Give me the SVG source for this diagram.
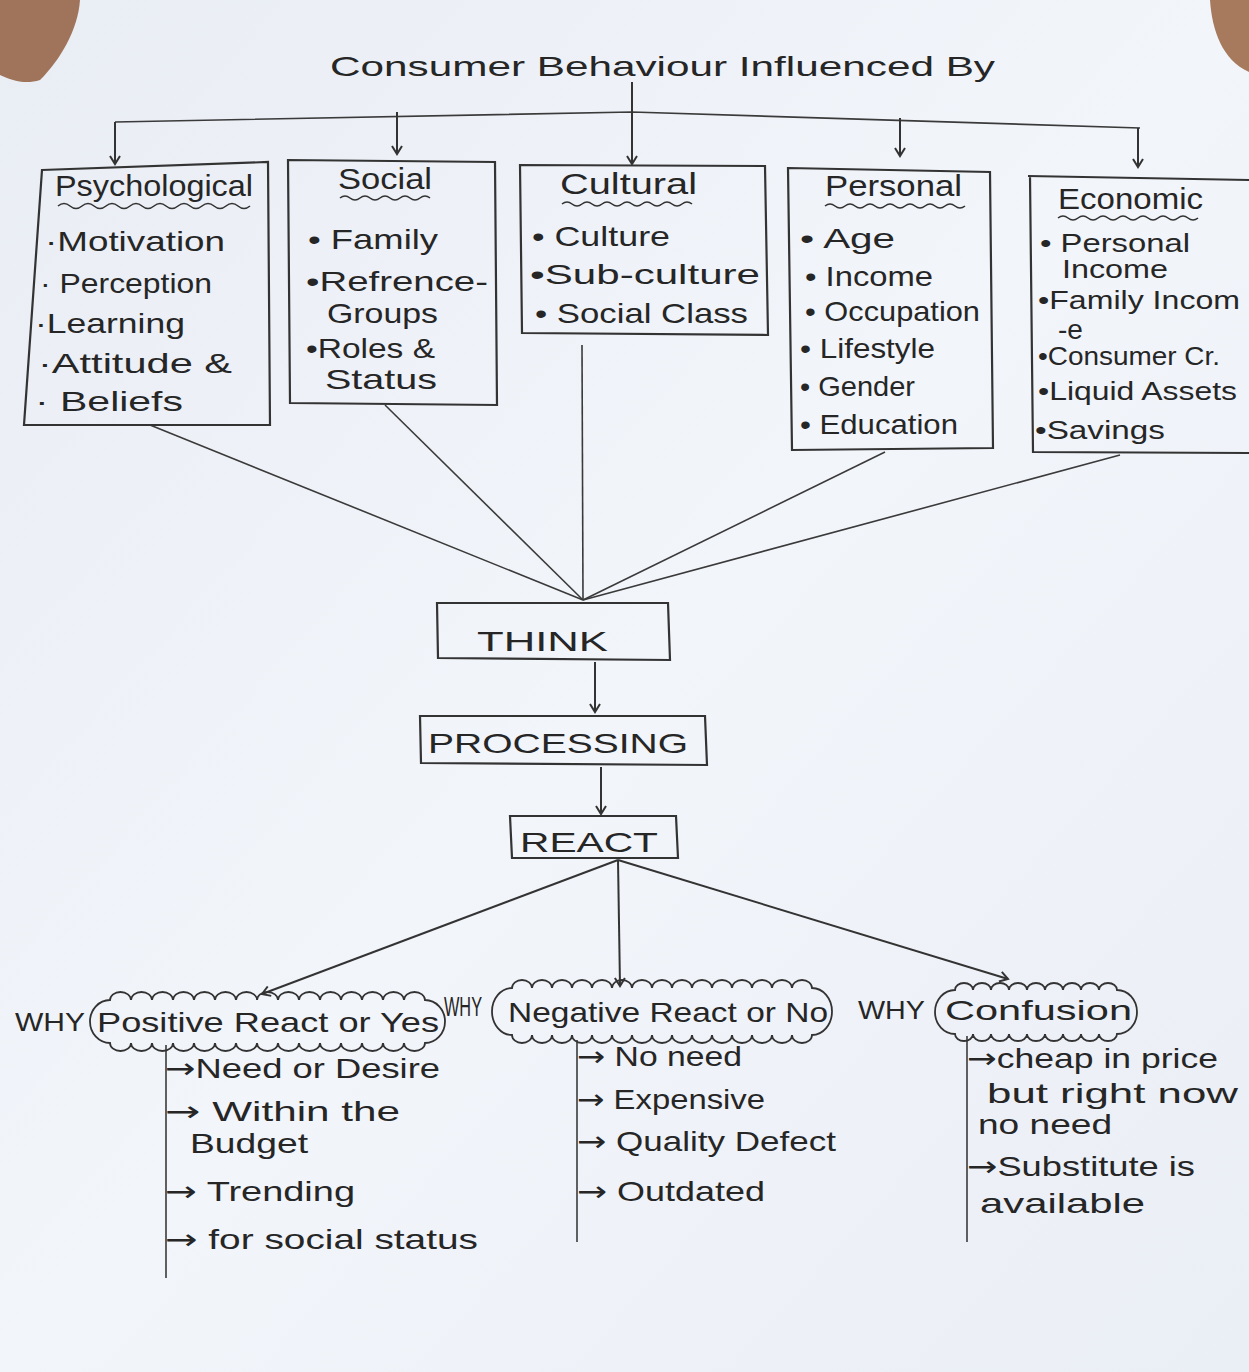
<svg xmlns="http://www.w3.org/2000/svg" width="1249" height="1372" viewBox="0 0 1249 1372">
<defs>
<marker id="ah" markerWidth="12" markerHeight="12" refX="9" refY="6" orient="auto" markerUnits="userSpaceOnUse">
<path d="M1,1 L9,6 L1,11" fill="none" stroke="#333" stroke-width="2"/>
</marker>
<linearGradient id="paper" x1="0" y1="0" x2="1" y2="1">
<stop offset="0" stop-color="#e9edf4"/>
<stop offset="0.5" stop-color="#f2f5fa"/>
<stop offset="1" stop-color="#eaeef5"/>
</linearGradient>
</defs>
<style>
.t{font-family:"Liberation Sans",Arial,sans-serif;fill:#262626;font-size:28px}
.h{font-size:30px}
.s{font-size:25px}
.a{font-family:"DejaVu Sans",sans-serif}
.box{fill:none;stroke:#333;stroke-width:2.2}
.ln{fill:none;stroke:#3a3a3a;stroke-width:1.6}
.ar{fill:none;stroke:#333;stroke-width:2;marker-end:url(#ah)}
.wv{fill:none;stroke:#333;stroke-width:1.6}
.cl{fill:none;stroke:#333;stroke-width:1.8}
</style>
<rect x="0" y="0" width="1249" height="1372" fill="url(#paper)"/>
<path d="M0,0 L80,0 C78,30 60,60 40,80 C25,85 10,80 0,75 Z" fill="#a0745a"/>
<path d="M1249,0 L1210,0 C1212,30 1222,60 1249,72 Z" fill="#a77a5e"/>

<g id="title">
<text class="t" x="330" y="76" font-size="40" textLength="665" lengthAdjust="spacingAndGlyphs">Consumer Behaviour Influenced By</text>
</g>

<g id="connectors">
<path class="ln" d="M115,122 L632,112 L1140,128"/>
<path class="ar" d="M115,122 L115,164"/>
<path class="ar" d="M397,112 L397,154"/>
<path class="ar" d="M632,82 L632,164"/>
<path class="ar" d="M900,118 L900,156"/>
<path class="ar" d="M1138,128 L1138,167"/>
<path class="ln" d="M150,425 L583,600"/>
<path class="ln" d="M385,405 L583,600"/>
<path class="ln" d="M582,345 L583,600"/>
<path class="ln" d="M885,452 L583,600"/>
<path class="ln" d="M1120,455 L583,600"/>
<path class="ar" d="M595,662 L595,712"/>
<path class="ar" d="M601,767 L601,814"/>
<path class="ar" d="M618,860 L262,994"/>
<path class="ar" d="M618,860 L620,986"/>
<path class="ar" d="M618,860 L1008,979"/>
<path class="ln" d="M166,1045 L166,1278"/>
<path class="ln" d="M577,1040 L577,1242"/>
<path class="ln" d="M967,1036 L967,1242"/>
</g>

<g id="psychological">
<path class="box" d="M42,170 L268,162 L270,425 L24,425 Z"/>
<text class="t h" x="55" y="196" textLength="198" lengthAdjust="spacingAndGlyphs">Psychological</text>
<path class="wv" d="M58,206 q6,-5 12,0 t12,0 t12,0 t12,0 t12,0 t12,0 t12,0 t12,0 t12,0 t12,0 t12,0 t12,0 t12,0 t12,0 t12,0 t12,0"/>
<text class="t" x="45" y="251" textLength="180" lengthAdjust="spacingAndGlyphs">·Motivation</text>
<text class="t" x="40" y="293" textLength="172" lengthAdjust="spacingAndGlyphs">· Perception</text>
<text class="t" x="35" y="333" textLength="150" lengthAdjust="spacingAndGlyphs">·Learning</text>
<text class="t" x="38" y="373" textLength="194" lengthAdjust="spacingAndGlyphs">·Attitude &amp;</text>
<text class="t" x="35" y="411" textLength="148" lengthAdjust="spacingAndGlyphs">·  Beliefs</text>
</g>

<g id="social">
<path class="box" d="M288,160 L495,162 L497,405 L290,403 Z"/>
<text class="t h" x="338" y="189" textLength="94" lengthAdjust="spacingAndGlyphs">Social</text>
<path class="wv" d="M340,198 q5,-4 10,0 t10,0 t10,0 t10,0 t10,0 t10,0 t10,0 t10,0 t10,0"/>
<text class="t" x="308" y="249" textLength="130" lengthAdjust="spacingAndGlyphs">• Family</text>
<text class="t" x="306" y="291" textLength="182" lengthAdjust="spacingAndGlyphs">•Refrence-</text>
<text class="t" x="327" y="323" textLength="111" lengthAdjust="spacingAndGlyphs">Groups</text>
<text class="t" x="306" y="358" textLength="129" lengthAdjust="spacingAndGlyphs">•Roles &amp;</text>
<text class="t" x="325" y="389" textLength="112" lengthAdjust="spacingAndGlyphs">Status</text>
</g>

<g id="cultural">
<path class="box" d="M520,165 L765,166 L768,335 L522,333 Z"/>
<text class="t h" x="560" y="194" textLength="137" lengthAdjust="spacingAndGlyphs">Cultural</text>
<path class="wv" d="M562,204 q5,-4 10,0 t10,0 t10,0 t10,0 t10,0 t10,0 t10,0 t10,0 t10,0 t10,0 t10,0 t10,0 t10,0"/>
<text class="t" x="532" y="246" textLength="138" lengthAdjust="spacingAndGlyphs">• Culture</text>
<text class="t" x="530" y="284" textLength="230" lengthAdjust="spacingAndGlyphs">•Sub-culture</text>
<text class="t" x="535" y="323" textLength="213" lengthAdjust="spacingAndGlyphs">• Social Class</text>
</g>

<g id="personal">
<path class="box" d="M788,168 L990,172 L993,448 L792,450 Z"/>
<text class="t h" x="825" y="196" textLength="137" lengthAdjust="spacingAndGlyphs">Personal</text>
<path class="wv" d="M825,206 q5,-4 10,0 t10,0 t10,0 t10,0 t10,0 t10,0 t10,0 t10,0 t10,0 t10,0 t10,0 t10,0 t10,0 t10,0"/>
<text class="t" x="800" y="248" textLength="95" lengthAdjust="spacingAndGlyphs">•  Age</text>
<text class="t" x="805" y="286" textLength="128" lengthAdjust="spacingAndGlyphs">• Income</text>
<text class="t" x="805" y="321" textLength="175" lengthAdjust="spacingAndGlyphs">• Occupation</text>
<text class="t" x="800" y="358" textLength="135" lengthAdjust="spacingAndGlyphs">• Lifestyle</text>
<text class="t" x="800" y="396" textLength="115" lengthAdjust="spacingAndGlyphs">• Gender</text>
<text class="t" x="800" y="434" textLength="158" lengthAdjust="spacingAndGlyphs">• Education</text>
</g>

<g id="economic">
<path class="box" d="M1028,176 L1249,180 M1030,176 L1033,452 L1249,453"/>
<text class="t h" x="1058" y="209" textLength="145" lengthAdjust="spacingAndGlyphs">Economic</text>
<path class="wv" d="M1058,218 q5,-4 10,0 t10,0 t10,0 t10,0 t10,0 t10,0 t10,0 t10,0 t10,0 t10,0 t10,0 t10,0 t10,0 t10,0"/>
<text class="t s" x="1040" y="252" textLength="150" lengthAdjust="spacingAndGlyphs">• Personal</text>
<text class="t s" x="1062" y="278" textLength="106" lengthAdjust="spacingAndGlyphs">Income</text>
<text class="t s" x="1038" y="309" textLength="202" lengthAdjust="spacingAndGlyphs">•Family Incom</text>
<text class="t" x="1058" y="339" font-size="15">-e</text>
<text class="t s" x="1038" y="365" textLength="182" lengthAdjust="spacingAndGlyphs">•Consumer Cr.</text>
<text class="t s" x="1038" y="400" textLength="199" lengthAdjust="spacingAndGlyphs">•Liquid Assets</text>
<text class="t s" x="1035" y="439" textLength="130" lengthAdjust="spacingAndGlyphs">•Savings</text>
</g>

<g id="think">
<path class="box" d="M437,603 L668,603 L670,660 L438,658 Z"/>
<text class="t" x="477" y="651" font-size="34" textLength="131" lengthAdjust="spacingAndGlyphs">THINK</text>
</g>

<g id="processing">
<path class="box" d="M420,716 L705,716 L707,765 L421,763 Z"/>
<text class="t" x="428" y="753" font-size="30" textLength="260" lengthAdjust="spacingAndGlyphs">PROCESSING</text>
</g>

<g id="react">
<path class="box" d="M510,816 L676,816 L678,858 L512,858 Z"/>
<text class="t" x="520" y="852" font-size="30" textLength="138" lengthAdjust="spacingAndGlyphs">REACT</text>
</g>

<g id="positive">
<text class="t s" x="15" y="1031" textLength="70" lengthAdjust="spacingAndGlyphs">WHY</text>
<path class="cl" d="M110,1000 a10.5 8 0 0 1 21 0 a10.5 8 0 0 1 21 0 a10.5 8 0 0 1 21 0 a10.5 8 0 0 1 21 0 a10.5 8 0 0 1 21 0 a10.5 8 0 0 1 21 0 a10.5 8 0 0 1 21 0 a10.5 8 0 0 1 21 0 a10.5 8 0 0 1 21 0 a10.5 8 0 0 1 21 0 a10.5 8 0 0 1 21 0 a10.5 8 0 0 1 21 0 a10.5 8 0 0 1 21 0 a10.5 8 0 0 1 21 0 a10.5 8 0 0 1 21 0 a20 21.5 0 0 1 0 43 a10.5 8 0 0 1 -21 0 a10.5 8 0 0 1 -21 0 a10.5 8 0 0 1 -21 0 a10.5 8 0 0 1 -21 0 a10.5 8 0 0 1 -21 0 a10.5 8 0 0 1 -21 0 a10.5 8 0 0 1 -21 0 a10.5 8 0 0 1 -21 0 a10.5 8 0 0 1 -21 0 a10.5 8 0 0 1 -21 0 a10.5 8 0 0 1 -21 0 a10.5 8 0 0 1 -21 0 a10.5 8 0 0 1 -21 0 a10.5 8 0 0 1 -21 0 a10.5 8 0 0 1 -21 0 a20 21.5 0 0 1 0 -43 Z"/>
<text class="t" x="97" y="1032" textLength="342" lengthAdjust="spacingAndGlyphs">Positive React or Yes</text>
<text class="t" x="165" y="1078" textLength="275" lengthAdjust="spacingAndGlyphs"><tspan class="a">→</tspan>Need or Desire</text>
<text class="t" x="165" y="1121" textLength="235" lengthAdjust="spacingAndGlyphs"><tspan class="a">→</tspan> Within the</text>
<text class="t" x="190" y="1153" textLength="118" lengthAdjust="spacingAndGlyphs">Budget</text>
<text class="t" x="165" y="1201" textLength="190" lengthAdjust="spacingAndGlyphs"><tspan class="a">→</tspan> Trending</text>
<text class="t" x="165" y="1249" textLength="313" lengthAdjust="spacingAndGlyphs"><tspan class="a">→</tspan> for social status</text>
</g>

<g id="negative">
<text class="t" x="444" y="1016" font-size="14" textLength="38" lengthAdjust="spacingAndGlyphs">WHY</text>
<path class="cl" d="M512,988 a10 8 0 0 1 20 0 a10 8 0 0 1 20 0 a10 8 0 0 1 20 0 a10 8 0 0 1 20 0 a10 8 0 0 1 20 0 a10 8 0 0 1 20 0 a10 8 0 0 1 20 0 a10 8 0 0 1 20 0 a10 8 0 0 1 20 0 a10 8 0 0 1 20 0 a10 8 0 0 1 20 0 a10 8 0 0 1 20 0 a10 8 0 0 1 20 0 a10 8 0 0 1 20 0 a10 8 0 0 1 20 0 a20 23.5 0 0 1 0 47 a10 8 0 0 1 -20 0 a10 8 0 0 1 -20 0 a10 8 0 0 1 -20 0 a10 8 0 0 1 -20 0 a10 8 0 0 1 -20 0 a10 8 0 0 1 -20 0 a10 8 0 0 1 -20 0 a10 8 0 0 1 -20 0 a10 8 0 0 1 -20 0 a10 8 0 0 1 -20 0 a10 8 0 0 1 -20 0 a10 8 0 0 1 -20 0 a10 8 0 0 1 -20 0 a10 8 0 0 1 -20 0 a10 8 0 0 1 -20 0 a20 23.5 0 0 1 0 -47 Z"/>
<text class="t" x="508" y="1022" textLength="320" lengthAdjust="spacingAndGlyphs">Negative React or No</text>
<text class="t" x="577" y="1066" textLength="165" lengthAdjust="spacingAndGlyphs"><tspan class="a">→</tspan> No need</text>
<text class="t" x="577" y="1109" textLength="188" lengthAdjust="spacingAndGlyphs"><tspan class="a">→</tspan> Expensive</text>
<text class="t" x="577" y="1151" textLength="259" lengthAdjust="spacingAndGlyphs"><tspan class="a">→</tspan> Quality Defect</text>
<text class="t" x="577" y="1201" textLength="188" lengthAdjust="spacingAndGlyphs"><tspan class="a">→</tspan> Outdated</text>
</g>

<g id="confusion">
<text class="t s" x="858" y="1019" textLength="67" lengthAdjust="spacingAndGlyphs">WHY</text>
<path class="cl" d="M955,990 a9 7 0 0 1 18 0 a9 7 0 0 1 18 0 a9 7 0 0 1 18 0 a9 7 0 0 1 18 0 a9 7 0 0 1 18 0 a9 7 0 0 1 18 0 a9 7 0 0 1 18 0 a9 7 0 0 1 18 0 a9 7 0 0 1 18 0 a20 22 0 0 1 0 44 a9 7 0 0 1 -18 0 a9 7 0 0 1 -18 0 a9 7 0 0 1 -18 0 a9 7 0 0 1 -18 0 a9 7 0 0 1 -18 0 a9 7 0 0 1 -18 0 a9 7 0 0 1 -18 0 a9 7 0 0 1 -18 0 a9 7 0 0 1 -18 0 a20 22 0 0 1 0 -44 Z"/>
<text class="t" x="945" y="1020" textLength="187" lengthAdjust="spacingAndGlyphs">Confusion</text>
<text class="t" x="967" y="1068" textLength="251" lengthAdjust="spacingAndGlyphs"><tspan class="a">→</tspan>cheap in price</text>
<text class="t" x="987" y="1103" textLength="251" lengthAdjust="spacingAndGlyphs">but right now</text>
<text class="t" x="978" y="1134" textLength="134" lengthAdjust="spacingAndGlyphs">no need</text>
<text class="t" x="967" y="1176" textLength="228" lengthAdjust="spacingAndGlyphs"><tspan class="a">→</tspan>Substitute is</text>
<text class="t" x="980" y="1213" textLength="165" lengthAdjust="spacingAndGlyphs">available</text>
</g>
</svg>
